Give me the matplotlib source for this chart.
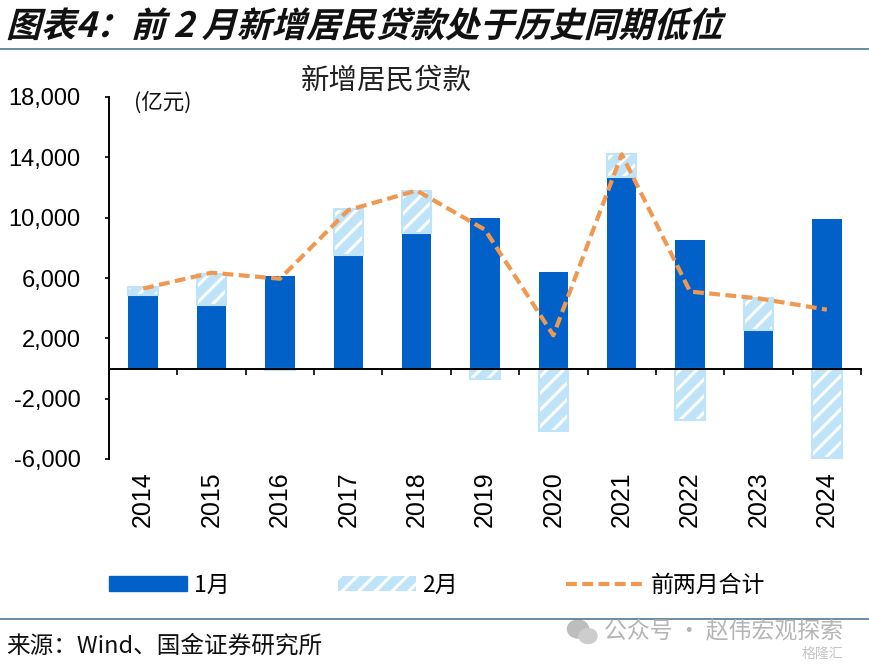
import matplotlib
matplotlib.use('Agg')
import matplotlib.pyplot as plt
import matplotlib.patheffects as pe
import numpy as np
from matplotlib.lines import Line2D
from matplotlib.patches import Ellipse, Patch
from matplotlib.ticker import FuncFormatter
from matplotlib.transforms import Affine2D

plt.rcParams['font.family'] = ['Noto Sans CJK SC', 'DejaVu Sans']
plt.rcParams['hatch.linewidth'] = 2.2

years = ['2014', '2015', '2016', '2017', '2018', '2019', '2020', '2021', '2022', '2023', '2024']
jan = [4870, 4200, 6100, 7500, 9000, 10000, 6400, 12700, 8500, 2570, 9900]
feb = [530, 2070, -110, 3080, 2800, -700, -4150, 1500, -3400, 2100, -5950]
total = [5300, 6350, 5950, 10500, 11800, 9200, 2200, 14200, 5100, 4650, 3900]
yticks = [-6000, -2000, 2000, 6000, 10000, 14000, 18000]

W, H = 870, 667
BLUE = '#0261C8'
LIGHT = '#BFE4F9'
ORANGE = '#F0984F'
RULE = '#3F6E8E'
DASH = (2.6, 1.3)


class Slant(pe.AbstractPathEffect):
    # leans the title glyphs like the fake italic in the original
    def __init__(self, pivot_y, amount=0.27):
        super().__init__()
        self.pivot_y = pivot_y
        self.amount = amount

    def draw_path(self, renderer, gc, tpath, affine, rgbFace=None):
        skew = Affine2D([[1, self.amount, -self.amount * self.pivot_y], [0, 1, 0], [0, 0, 1]])
        renderer.draw_path(gc, tpath, affine + skew, rgbFace)


fig = plt.figure(figsize=(W / 100, H / 100), dpi=100)
ax = fig.add_axes([109 / W, 1 - 459 / H, (861 - 109) / W, (459 - 97) / H])

x = np.arange(len(years))
feb_bottom = [j if f > 0 else 0 for j, f in zip(jan, feb)]
ax.bar(x, jan, width=0.43, color=BLUE, zorder=2)
ax.bar(x, feb, width=0.43, bottom=feb_bottom, facecolor=LIGHT, edgecolor='white', hatch='//', linewidth=0, zorder=2)
ax.bar(x, feb, width=0.43, bottom=feb_bottom, facecolor='none', edgecolor=LIGHT, linewidth=1.5, zorder=2.5)
ax.plot(x, total, color=ORANGE, lw=3, dashes=DASH, zorder=3)

ax.set_xlim(-0.5, len(years) - 0.5)
ax.set_ylim(-6000, 18000)
ax.spines['top'].set_visible(False)
ax.spines['right'].set_visible(False)
ax.spines['bottom'].set_position(('data', 0))
ax.spines['left'].set_linewidth(1.4)
ax.spines['bottom'].set_linewidth(1.4)

ax.set_yticks(yticks)
ax.yaxis.set_major_formatter(FuncFormatter(lambda v, p: f'{int(v):,}'))
ax.tick_params(axis='y', length=3, width=1.2, pad=17.5)
for t in ax.get_yticklabels():
    t.set_fontfamily('Liberation Sans')
    t.set_fontsize(17)

ax.set_xticks(x)
ax.set_xticklabels(years, rotation=90, fontfamily='Liberation Sans', fontsize=18)
ax.set_xticks(np.arange(-0.5, len(years)), minor=True)
ax.tick_params(axis='x', which='major', length=0, pad=74)
ax.tick_params(axis='x', which='minor', length=4, width=1.2, direction='out')

fig.text(386 / W, 1 - 81 / H, '新增居民贷款', ha='center', va='center', fontsize=20.5, color='#222222')
fig.text(134 / W, 1 - 103 / H, '(亿元)', ha='left', va='center', fontsize=15.5, color='#111111')

title = fig.text(6 / W, 1 - 37 / H, '图表4：前 2 月新增居民贷款处于历史同期低位', ha='left', va='baseline',
                 fontsize=25, fontweight='bold', color='#111111')
title.set_path_effects([Slant(H - 37)])

fig.add_artist(Line2D([0, 1], [1 - 49 / H, 1 - 49 / H], color=RULE, lw=1.1))
fig.add_artist(Line2D([0, 1], [1 - 619 / H, 1 - 619 / H], color=RULE, lw=1.1))

handles = [
    Patch(facecolor=BLUE, edgecolor=BLUE, label='1月'),
    Patch(facecolor=LIGHT, edgecolor='white', hatch='//', linewidth=0, label='2月'),
    Line2D([0], [0], color=ORANGE, lw=3, dashes=DASH, label='前两月合计'),
]
fig.legend(handles=handles, ncol=3, loc='center left', bbox_to_anchor=(98 / W, 1 - 585 / H), frameon=False,
           fontsize=16.5, handlelength=3.4, handleheight=0.6, handletextpad=0.3, columnspacing=4.7, borderpad=0)

fig.text(6 / W, 1 - 646 / H, '来源：Wind、国金证券研究所', ha='left', va='center', fontsize=17, color='#111111')

# watermark in the bottom corner
fig.text(604 / W, 1 - 632 / H, '公众号 · 赵伟宏观探索', ha='left', va='center', fontsize=16.5, color='#B5B5B5')
fig.text(843 / W, 1 - 654 / H, '格隆汇', ha='right', va='center', fontsize=10, color='#C4C4C4')
fig.add_artist(Ellipse((578 / W, 1 - 629 / H), 21 / W, 18 / H, color='#BDBDBD', transform=fig.transFigure))
fig.add_artist(Ellipse((588 / W, 1 - 636 / H), 18 / W, 15 / H, color='#CDCDCD', transform=fig.transFigure))

fig.savefig('out.png', dpi=100)
